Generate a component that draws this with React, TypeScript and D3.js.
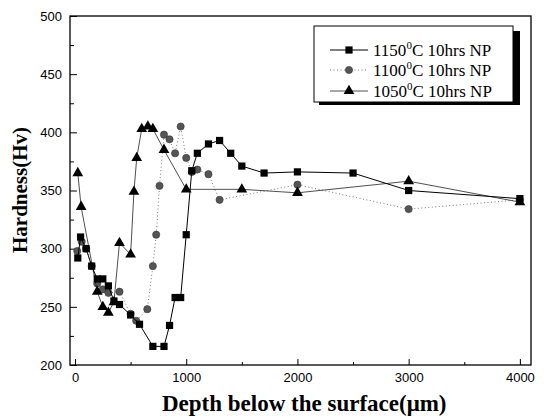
import React, {useRef, useEffect} from 'react';
import * as d3 from 'd3';

// depth (um) and hardness (Hv)
const depth1150 = [25, 50, 100, 150, 200, 250, 300, 350, 400, 500, 580, 700, 800, 850, 900, 950, 1000, 1050, 1100, 1200, 1300, 1400, 1500, 1700, 2000, 2500, 3000, 4000];
const hv1150 = [292, 310, 300, 285, 274, 274, 268, 255, 252, 243, 235, 216, 216, 234, 258, 258, 312, 367, 382, 390, 393, 382, 371, 365, 366, 365, 350, 343];

const depth1100 = [20, 60, 100, 150, 200, 250, 300, 400, 500, 550, 650, 700, 730, 760, 800, 850, 900, 950, 1000, 1050, 1100, 1200, 1300, 2000, 3000, 4000];
const hv1100 = [298, 306, 300, 285, 270, 265, 262, 263, 244, 238, 248, 285, 312, 354, 398, 394, 382, 405, 378, 366, 368, 364, 342, 355, 334, 342];

const depth1050 = [25, 55, 200, 250, 300, 350, 400, 500, 530, 555, 600, 655, 700, 800, 1000, 1500, 2000, 3000, 4000];
const hv1050 = [365, 336, 263, 250, 245, 254, 305, 295, 349, 378, 403, 405, 403, 385, 351, 351, 348, 358, 340];

const xTicks = [0, 1000, 2000, 3000, 4000];
const yTicks = [200, 250, 300, 350, 400, 450, 500];

const series = [
  {name: '1150', x: depth1150, y: hv1150, shape: 'square', dash: null, stroke: '#000', width: 1},
  {name: '1100', x: depth1100, y: hv1100, shape: 'circle', dash: '1,2.5', stroke: '#777', width: 1},
  {name: '1050', x: depth1050, y: hv1050, shape: 'triangle', dash: null, stroke: '#222', width: 0.8},
];

export default function App() {
  const svgRef = useRef<SVGSVGElement>(null);

  useEffect(() => {
    const w = 544;
    const h = 416;
    const left = 70, right = 531, top = 16, bottom = 365;
    const svg = d3.select(svgRef.current)
      .attr('width', w)
      .attr('height', h);
    svg.selectAll('*').remove();

    const xScale = d3.scaleLinear().domain([-45, 4100]).range([left, right]);
    const yScale = d3.scaleLinear().domain([200, 500]).range([bottom, top]);

    const tickFont = '"Liberation Sans", Arial, sans-serif';
    const serif = '"Liberation Serif", "Times New Roman", serif';

    // minor ticks
    svg.append('g')
      .attr('transform', `translate(0,${bottom})`)
      .call(d3.axisBottom(xScale).tickValues([500, 1500, 2500, 3500]).tickSize(-3).tickFormat(() => ''))
      .call(g => g.select('.domain').remove());
    svg.append('g')
      .attr('transform', `translate(${left},0)`)
      .call(d3.axisLeft(yScale).tickValues(d3.range(225, 500, 50)).tickSize(-4).tickFormat(() => ''))
      .call(g => g.select('.domain').remove());

    // main axes
    const xAxis = svg.append('g')
      .attr('transform', `translate(0,${bottom})`)
      .call(d3.axisBottom(xScale).tickValues(xTicks).tickSize(-6).tickPadding(8).tickFormat(d3.format('d')));
    xAxis.select('.domain').remove();
    xAxis.selectAll('text').attr('font-family', tickFont).attr('font-size', 13).attr('fill', '#000');

    const yAxis = svg.append('g')
      .attr('transform', `translate(${left},0)`)
      .call(d3.axisLeft(yScale).tickValues(yTicks).tickSize(-7).tickPadding(8));
    yAxis.select('.domain').remove();
    yAxis.selectAll('text').attr('font-family', tickFont).attr('font-size', 13).attr('fill', '#000');

    // frame
    svg.append('rect')
      .attr('x', left).attr('y', top)
      .attr('width', right - left).attr('height', bottom - top)
      .attr('fill', 'none').attr('stroke', '#000').attr('stroke-width', 1.3);

    // titles
    svg.append('text')
      .attr('x', 162).attr('y', 411)
      .attr('font-family', serif)
      .attr('font-weight', 'bold').attr('font-size', 23)
      .text('Depth below the surface(μm)');
    svg.append('text')
      .attr('transform', 'translate(27,190) rotate(-90)')
      .attr('text-anchor', 'middle')
      .attr('font-family', serif)
      .attr('font-weight', 'bold').attr('font-size', 21)
      .text('Hardness(Hv)');

    const drawMarker = (sel, shape, cx, cy) => {
      if (shape === 'circle') {
        sel.append('circle').attr('cx', cx).attr('cy', cy).attr('r', 3.6)
          .attr('fill', '#555').attr('stroke', '#333').attr('stroke-width', 0.6);
      } else {
        const sym = shape === 'square' ? d3.symbol(d3.symbolSquare, 52) : d3.symbol(d3.symbolTriangle, 50);
        sel.append('path').attr('d', sym()).attr('transform', `translate(${cx},${cy})`).attr('fill', '#000');
      }
    };

    const line = d3.line<[number, number]>()
      .x(d => xScale(d[0]))
      .y(d => yScale(d[1]));

    // draw 1100 first, then 1050, then 1150 on top
    [series[1], series[2], series[0]].forEach(s => {
      const pts = s.x.map((v, i) => [v, s.y[i]] as [number, number]);
      const g = svg.append('g');
      g.append('path')
        .attr('d', line(pts))
        .attr('fill', 'none')
        .attr('stroke', s.stroke)
        .attr('stroke-width', s.width)
        .attr('stroke-dasharray', s.dash);
      pts.forEach(p => drawMarker(g, s.shape, xScale(p[0]), yScale(p[1])));
    });

    // legend with drop shadow
    const lg = svg.append('g');
    lg.append('rect').attr('x', 319).attr('y', 31).attr('width', 201).attr('height', 74).attr('fill', '#000');
    lg.append('rect').attr('x', 314).attr('y', 26).attr('width', 199).attr('height', 76)
      .attr('fill', '#fff').attr('stroke', '#000').attr('stroke-width', 1);
    const rows = [50, 70, 91];
    series.forEach((s, i) => {
      const y = rows[i];
      lg.append('line').attr('x1', 330).attr('x2', 368).attr('y1', y).attr('y2', y)
        .attr('stroke', s.stroke).attr('stroke-width', s.width)
        .attr('stroke-dasharray', s.dash);
      drawMarker(lg, s.shape, 349, y);
      const t = lg.append('text').attr('x', 373).attr('y', y + 6)
        .attr('font-family', serif)
        .attr('font-size', 17);
      t.append('tspan').text(s.name);
      t.append('tspan').attr('font-size', 11).attr('dy', -7).text('0');
      t.append('tspan').attr('dy', 7).text('C 10hrs NP');
    });
  }, []);

  return (
    <div className="App">
      <svg ref={svgRef} style={{position: 'absolute', left: 0, top: 0, background: '#fff'}}></svg>
    </div>
  );
}
